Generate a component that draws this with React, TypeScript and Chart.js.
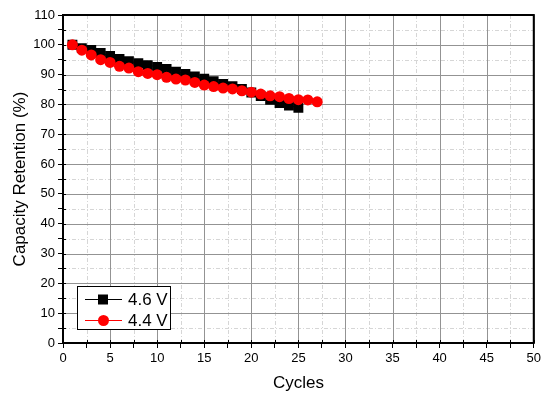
import React, { useEffect, useRef } from "react";
import { Chart, registerables } from "chart.js";

Chart.register(...registerables);

const seriesLabels = ["4.6 V", "4.4 V"];
const cycles46 = [1, 2, 3, 4, 5, 6, 7, 8, 9, 10, 11, 12, 13, 14, 15, 16, 17, 18, 19, 20, 21, 22, 23, 24, 25];
const retention46 = [100, 98.9, 98.3, 97.3, 96.3, 95.3, 94.5, 93.8, 93.2, 92.6, 91.9, 91.0, 90.2, 89.4, 88.6, 87.8, 86.9, 86.1, 85.2, 84.0, 82.8, 81.6, 80.5, 79.6, 78.9];
const cycles44 = [1, 2, 3, 4, 5, 6, 7, 8, 9, 10, 11, 12, 13, 14, 15, 16, 17, 18, 19, 20, 21, 22, 23, 24, 25, 26, 27];
const retention44 = [100, 98.2, 96.6, 95.0, 94.1, 92.8, 92.2, 91.0, 90.4, 90.0, 89.1, 88.5, 88.2, 87.4, 86.5, 86.0, 85.5, 85.2, 84.6, 84.1, 83.5, 82.9, 82.6, 82.0, 81.6, 81.5, 80.9];

const xMin = 0, xMax = 50, xStep = 2.5, xLabelEvery = 5;
const yMin = 0, yMax = 110, yStep = 5, yLabelEvery = 10;
const xTitle = "Cycles";
const yTitle = "Capacity Retention (%)";

const FONT = "'Liberation Sans', Arial, sans-serif";
const MAJOR_GRID = "#939393";
const MINOR_GRID = "#d6d6d6";
const MINOR_DASH = [4, 2, 1, 2];

const isMajor = (v: number, every: number) => Math.abs(v / every - Math.round(v / every)) < 1e-6;

const gridFramePlugin = {
  id: "gridFrame",
  beforeDatasetsDraw(chart: any) {
    const { ctx, chartArea: a, scales } = chart;
    ctx.save();
    ctx.lineWidth = 1;
    const drawV = (major: boolean) => {
      scales.x.ticks.forEach((t: any) => {
        if (isMajor(t.value, xLabelEvery) !== major) return;
        const px = Math.round(scales.x.getPixelForValue(t.value)) + 0.5;
        ctx.beginPath();
        ctx.moveTo(px, a.top);
        ctx.lineTo(px, a.bottom);
        ctx.stroke();
      });
    };
    const drawH = (major: boolean) => {
      scales.y.ticks.forEach((t: any) => {
        if (isMajor(t.value, yLabelEvery) !== major) return;
        const py = Math.round(scales.y.getPixelForValue(t.value)) + 0.5;
        ctx.beginPath();
        ctx.moveTo(a.left, py);
        ctx.lineTo(a.right, py);
        ctx.stroke();
      });
    };
    // minor grid first (dash-dot, light)
    ctx.strokeStyle = MINOR_GRID;
    ctx.setLineDash(MINOR_DASH);
    drawV(false);
    drawH(false);
    // major grid (solid, darker)
    ctx.strokeStyle = MAJOR_GRID;
    ctx.setLineDash([]);
    drawV(true);
    drawH(true);
    // inner ticks
    ctx.strokeStyle = "#000";
    scales.x.ticks.forEach((t: any) => {
      const px = Math.round(scales.x.getPixelForValue(t.value)) + 0.5;
      ctx.beginPath();
      ctx.moveTo(px, a.bottom);
      ctx.lineTo(px, a.bottom - 3);
      ctx.stroke();
    });
    scales.y.ticks.forEach((t: any) => {
      const py = Math.round(scales.y.getPixelForValue(t.value)) + 0.5;
      ctx.beginPath();
      ctx.moveTo(a.left, py);
      ctx.lineTo(a.left + 3, py);
      ctx.stroke();
    });
    ctx.lineWidth = 2;
    ctx.strokeRect(a.left, a.top, a.right - a.left, a.bottom - a.top);
    ctx.restore();
  },
};

const legendPlugin = {
  id: "boxLegend",
  afterDatasetsDraw(chart: any) {
    const { ctx, chartArea: a } = chart;
    const bx = a.left + 14, by = a.bottom - 57, bw = 93, bh = 43;
    ctx.save();
    ctx.fillStyle = "#fff";
    ctx.fillRect(bx, by, bw, bh);
    ctx.strokeStyle = "#000";
    ctx.lineWidth = 1;
    ctx.strokeRect(bx + 0.5, by + 0.5, bw, bh);
    [0, 1].forEach((di, i) => {
      const ds = chart.data.datasets[di];
      const y = by + 13.5 + i * 21;
      ctx.strokeStyle = ds.borderColor;
      ctx.lineWidth = 1;
      ctx.beginPath();
      ctx.moveTo(bx + 8, y);
      ctx.lineTo(bx + 45, y);
      ctx.stroke();
      ctx.fillStyle = ds.pointBackgroundColor;
      if (ds.pointStyle === "rect") {
        ctx.fillRect(bx + 21, y - 5, 10, 10);
      } else {
        ctx.beginPath();
        ctx.arc(bx + 26.5, y, 5.5, 0, Math.PI * 2);
        ctx.fill();
      }
      ctx.fillStyle = "#000";
      ctx.font = `17px ${FONT}`;
      ctx.textBaseline = "middle";
      ctx.textAlign = "left";
      ctx.fillText(ds.label, bx + 51, y + 1);
    });
    ctx.restore();
  },
};

const buildTicks = (min: number, max: number, step: number) => (s: any) => {
  const t = [];
  for (let v = min; v <= max + 1e-9; v += step) t.push({ value: v });
  s.ticks = t;
};

export default function App() {
  const ref = useRef<HTMLCanvasElement | null>(null);

  useEffect(() => {
    if (!ref.current) return;
    const chart = new Chart(ref.current, {
      type: "line",
      data: {
        datasets: [
          {
            label: seriesLabels[0],
            data: cycles46.map((x, i) => ({ x, y: retention46[i] })),
            borderColor: "#000000",
            backgroundColor: "#000000",
            pointBackgroundColor: "#000000",
            pointBorderColor: "#000000",
            pointStyle: "rect",
            pointRadius: 7,
            pointBorderWidth: 0,
            borderWidth: 1,
            order: 2,
          },
          {
            label: seriesLabels[1],
            data: cycles44.map((x, i) => ({ x, y: retention44[i] })),
            borderColor: "#ff0000",
            backgroundColor: "#ff0000",
            pointBackgroundColor: "#ff0000",
            pointBorderColor: "#ff0000",
            pointStyle: "circle",
            pointRadius: 5.5,
            pointBorderWidth: 0,
            borderWidth: 1,
            order: 1,
          },
        ],
      },
      options: {
        responsive: false,
        animation: false,
        events: [],
        layout: { padding: { left: 0, right: 8, top: 15, bottom: 0 } },
        plugins: { legend: { display: false }, tooltip: { enabled: false } },
        scales: {
          x: {
            type: "linear",
            min: xMin,
            max: xMax,
            afterFit: (s: any) => { s.height = 57; },
            afterBuildTicks: buildTicks(xMin, xMax, xStep),
            ticks: {
              autoSkip: false,
              maxRotation: 0,
              color: "#000",
              font: { family: FONT, size: 13 },
              padding: 3,
              callback: (v: any) => (isMajor(Number(v), xLabelEvery) ? String(v) : ""),
            },
            grid: {
              drawOnChartArea: false,
              tickColor: "#000",
              tickLength: 5,
              lineWidth: 1,
            },
            border: { display: true, color: "#000", width: 2 },
            title: {
              display: true,
              text: xTitle,
              color: "#000",
              font: { family: FONT, size: 17 },
              padding: { top: 0, bottom: 6 },
            },
          },
          y: {
            type: "linear",
            min: yMin,
            max: yMax,
            afterFit: (s: any) => { s.width = 63; },
            afterBuildTicks: buildTicks(yMin, yMax, yStep),
            ticks: {
              autoSkip: false,
              color: "#000",
              font: { family: FONT, size: 13 },
              padding: 3,
              callback: (v: any) => (isMajor(Number(v), yLabelEvery) ? String(v) : ""),
            },
            grid: {
              drawOnChartArea: false,
              tickColor: "#000",
              tickLength: 5,
              lineWidth: 1,
            },
            border: { display: true, color: "#000", width: 2 },
            title: {
              display: true,
              text: yTitle,
              color: "#000",
              font: { family: FONT, size: 17 },
              padding: { top: 10, bottom: 0 },
            },
          },
        },
      },
      plugins: [gridFramePlugin, legendPlugin],
    } as any);
    return () => chart.destroy();
  }, []);

  return (
    <div style={{ position: "fixed", left: 0, top: 0, width: 544, height: 400, background: "#fff" }}>
      <canvas ref={ref} width={544} height={400} style={{ display: "block" }} />
    </div>
  );
}
